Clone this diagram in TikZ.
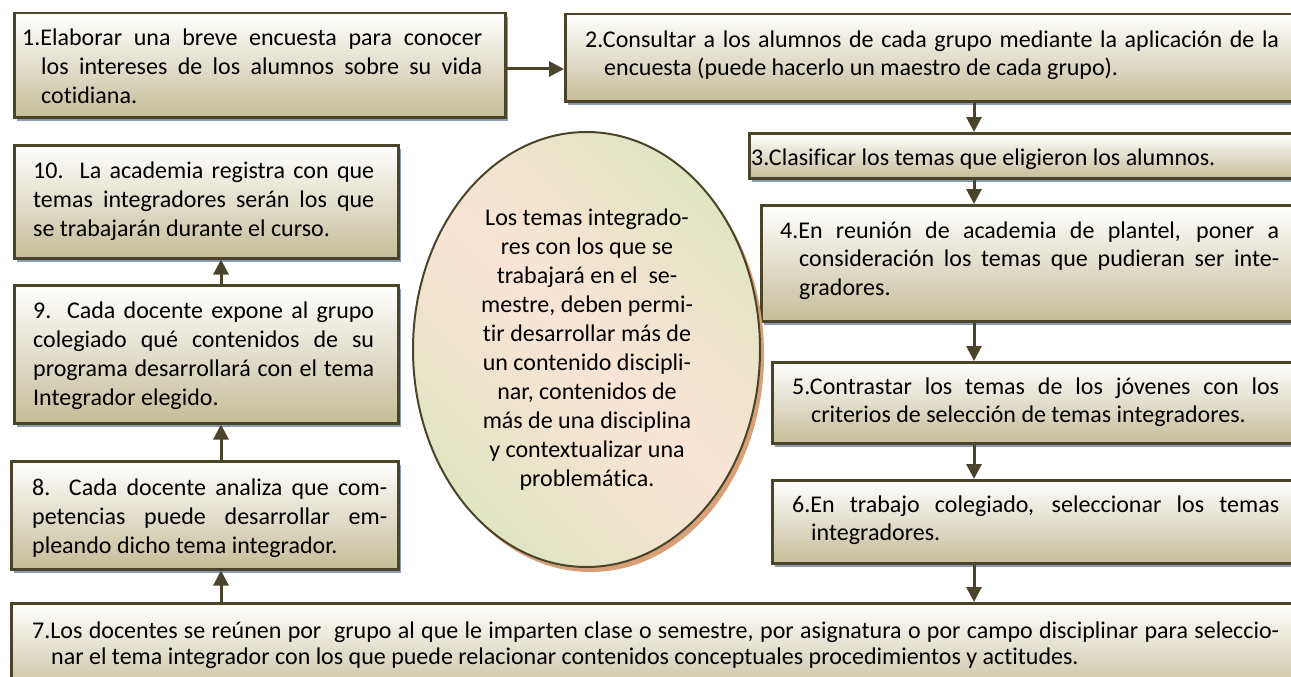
\documentclass[tikz,border=0pt]{standalone}
\usepackage{fontspec}
\setmainfont{Carlito}[Ligatures=NoCommon]
\usetikzlibrary{arrows.meta,shapes.geometric,shadows}
\definecolor{bord}{RGB}{74,69,42}
\definecolor{khaki}{RGB}{196,189,151}
\definecolor{shad}{RGB}{141,155,178}
\definecolor{peach}{RGB}{251,228,213}
\definecolor{sage}{RGB}{224,229,194}
\definecolor{eshad}{RGB}{217,160,120}
\newcommand\jl[2]{\makebox[#1pt][s]{#2}}
\begin{document}
\begin{tikzpicture}[x=1pt,y=-1pt,
  stepbox/.style={draw=bord, line width=2.5pt, top color=white, bottom color=khaki, anchor=north west, inner sep=0pt,
    drop shadow={shadow xshift=3pt, shadow yshift=-4pt, fill=shad, opacity=1}},
  txt/.style={anchor=north west, inner sep=0pt, align=left, text=black, font=\fontsize{24}{29}\selectfont},
  txtr/.style={txt, font=\fontsize{24}{28.5}\selectfont},
  arr/.style={draw=bord, line width=3pt, -{Triangle[length=15pt,width=15pt]}},
]
\useasboundingbox (0,0) rectangle (1291,677);
\clip (0,0) rectangle (1291,677);

% boxes
\node[stepbox, minimum width=491pt, minimum height=104pt] (b1) at (13,12) {};
\node[stepbox, minimum width=740pt, minimum height=87pt] (b2) at (564,13) {};
\node[stepbox, minimum width=555pt, minimum height=45pt] (b3) at (748,132) {};
\node[stepbox, minimum width=543pt, minimum height=116pt] (b4) at (760,204) {};
\node[stepbox, minimum width=532pt, minimum height=81pt] (b5) at (771,361) {};
\node[stepbox, minimum width=532pt, minimum height=83pt] (b6) at (771,479) {};
\node[stepbox, minimum width=1295pt, minimum height=95pt] (b7) at (10,602) {};
\node[stepbox, minimum width=387pt, minimum height=108pt] (b8) at (10,460) {};
\node[stepbox, minimum width=384pt, minimum height=138pt] (b9) at (13,284) {};
\node[stepbox, minimum width=384pt, minimum height=113pt] (b10) at (13,144) {};

% ellipse
\node[ellipse, draw=bord, line width=2pt, minimum width=347pt, minimum height=435pt, inner sep=0pt,
  top color=sage, bottom color=sage, middle color=peach, shading angle=-45,
  drop shadow={shadow xshift=4pt, shadow yshift=-5pt, fill=eshad, opacity=1}] (ell) at (586.5,349.5) {};

% texts
\node[txt] (t1) at (22,24.7) {\strut\jl{460}{1.Elaborar una breve encuesta para conocer}\\
  \hspace*{19pt}\jl{441}{los intereses de los alumnos sobre su vida}\\
  \hspace*{19pt}cotidiana.};
\node[txtr] (t2) at (585,27) {\strut\jl{694}{2.Consultar a los alumnos de cada grupo mediante la aplicación de la}\\
  \hspace*{19pt}encuesta (puede hacerlo un maestro de cada grupo).};
\node[txtr] (t3) at (751,145) {\strut 3.Clasificar los temas que eligieron los alumnos.};
\node[txtr] (t4) at (780,218) {\strut\jl{499}{4.En reunión de academia de plantel, poner a}\\
  \hspace*{19pt}\jl{480}{consideración los temas que pudieran ser inte-}\\
  \hspace*{19pt}gradores.};
\node[txtr] (t5) at (792,374) {\strut\jl{487}{5.Contrastar los temas de los jóvenes con los}\\
  \hspace*{19pt}criterios de selección de temas integradores.};
\node[txtr] (t6) at (792,492) {\strut\jl{487}{6.En trabajo colegiado, seleccionar los temas}\\
  \hspace*{19pt}integradores.};
\node[txt, font=\fontsize{24}{26.5}\selectfont] (t7) at (32,619.5) {\strut\jl{1247}{7.Los docentes se reúnen por\ \ grupo al que le imparten clase o semestre, por asignatura o por campo disciplinar para seleccio-}\\
  \hspace*{19pt}nar el tema integrador con los que puede relacionar contenidos conceptuales procedimientos y actitudes.};
\node[txt] (t8) at (32,474.7) {\strut\jl{355}{8. Cada docente analiza que com-}\\
  \jl{355}{petencias puede desarrollar em-}\\
  pleando dicho tema integrador.};
\node[txt] (t9) at (33,297.7) {\strut\jl{341}{9. Cada docente expone al grupo}\\
  \jl{341}{colegiado qué contenidos de su}\\
  \jl{341}{programa desarrollará con el tema}\\
  Integrador elegido.};
\node[txt] (t10) at (33,157.7) {\strut\jl{341}{10. La academia registra con que}\\
  \jl{341}{temas integradores serán los que}\\
  se trabajarán durante el curso.};
\node[txt, anchor=north, align=center] (et) at (587,204.7) {\strut Los temas integrado-\\res con los que se\\trabajará en el\ \ se-\\mestre, deben permi-\\tir desarrollar más de\\un contenido discipli-\\nar, contenidos de\\más de una disciplina\\y contextualizar una\\problemática.};

% connectors
\coordinate (m12) at (0,69);
\coordinate (rc) at (974,0);
\coordinate (lc) at (221,0);
\draw[arr] (b1.east |- m12) -- (b2.west |- m12);
\draw[arr] (b2.south -| rc) -- (b3.north -| rc);
\draw[arr] (b3.south -| rc) -- (b4.north -| rc);
\draw[arr] (b4.south -| rc) -- (b5.north -| rc);
\draw[arr] (b5.south -| rc) -- (b6.north -| rc);
\draw[arr] (b6.south -| rc) -- (b7.north -| rc);
\draw[arr] (b7.north -| lc) -- (b8.south -| lc);
\draw[arr] (b8.north -| lc) -- (b9.south -| lc);
\draw[arr] (b9.north -| lc) -- (b10.south -| lc);
\end{tikzpicture}
\end{document}
